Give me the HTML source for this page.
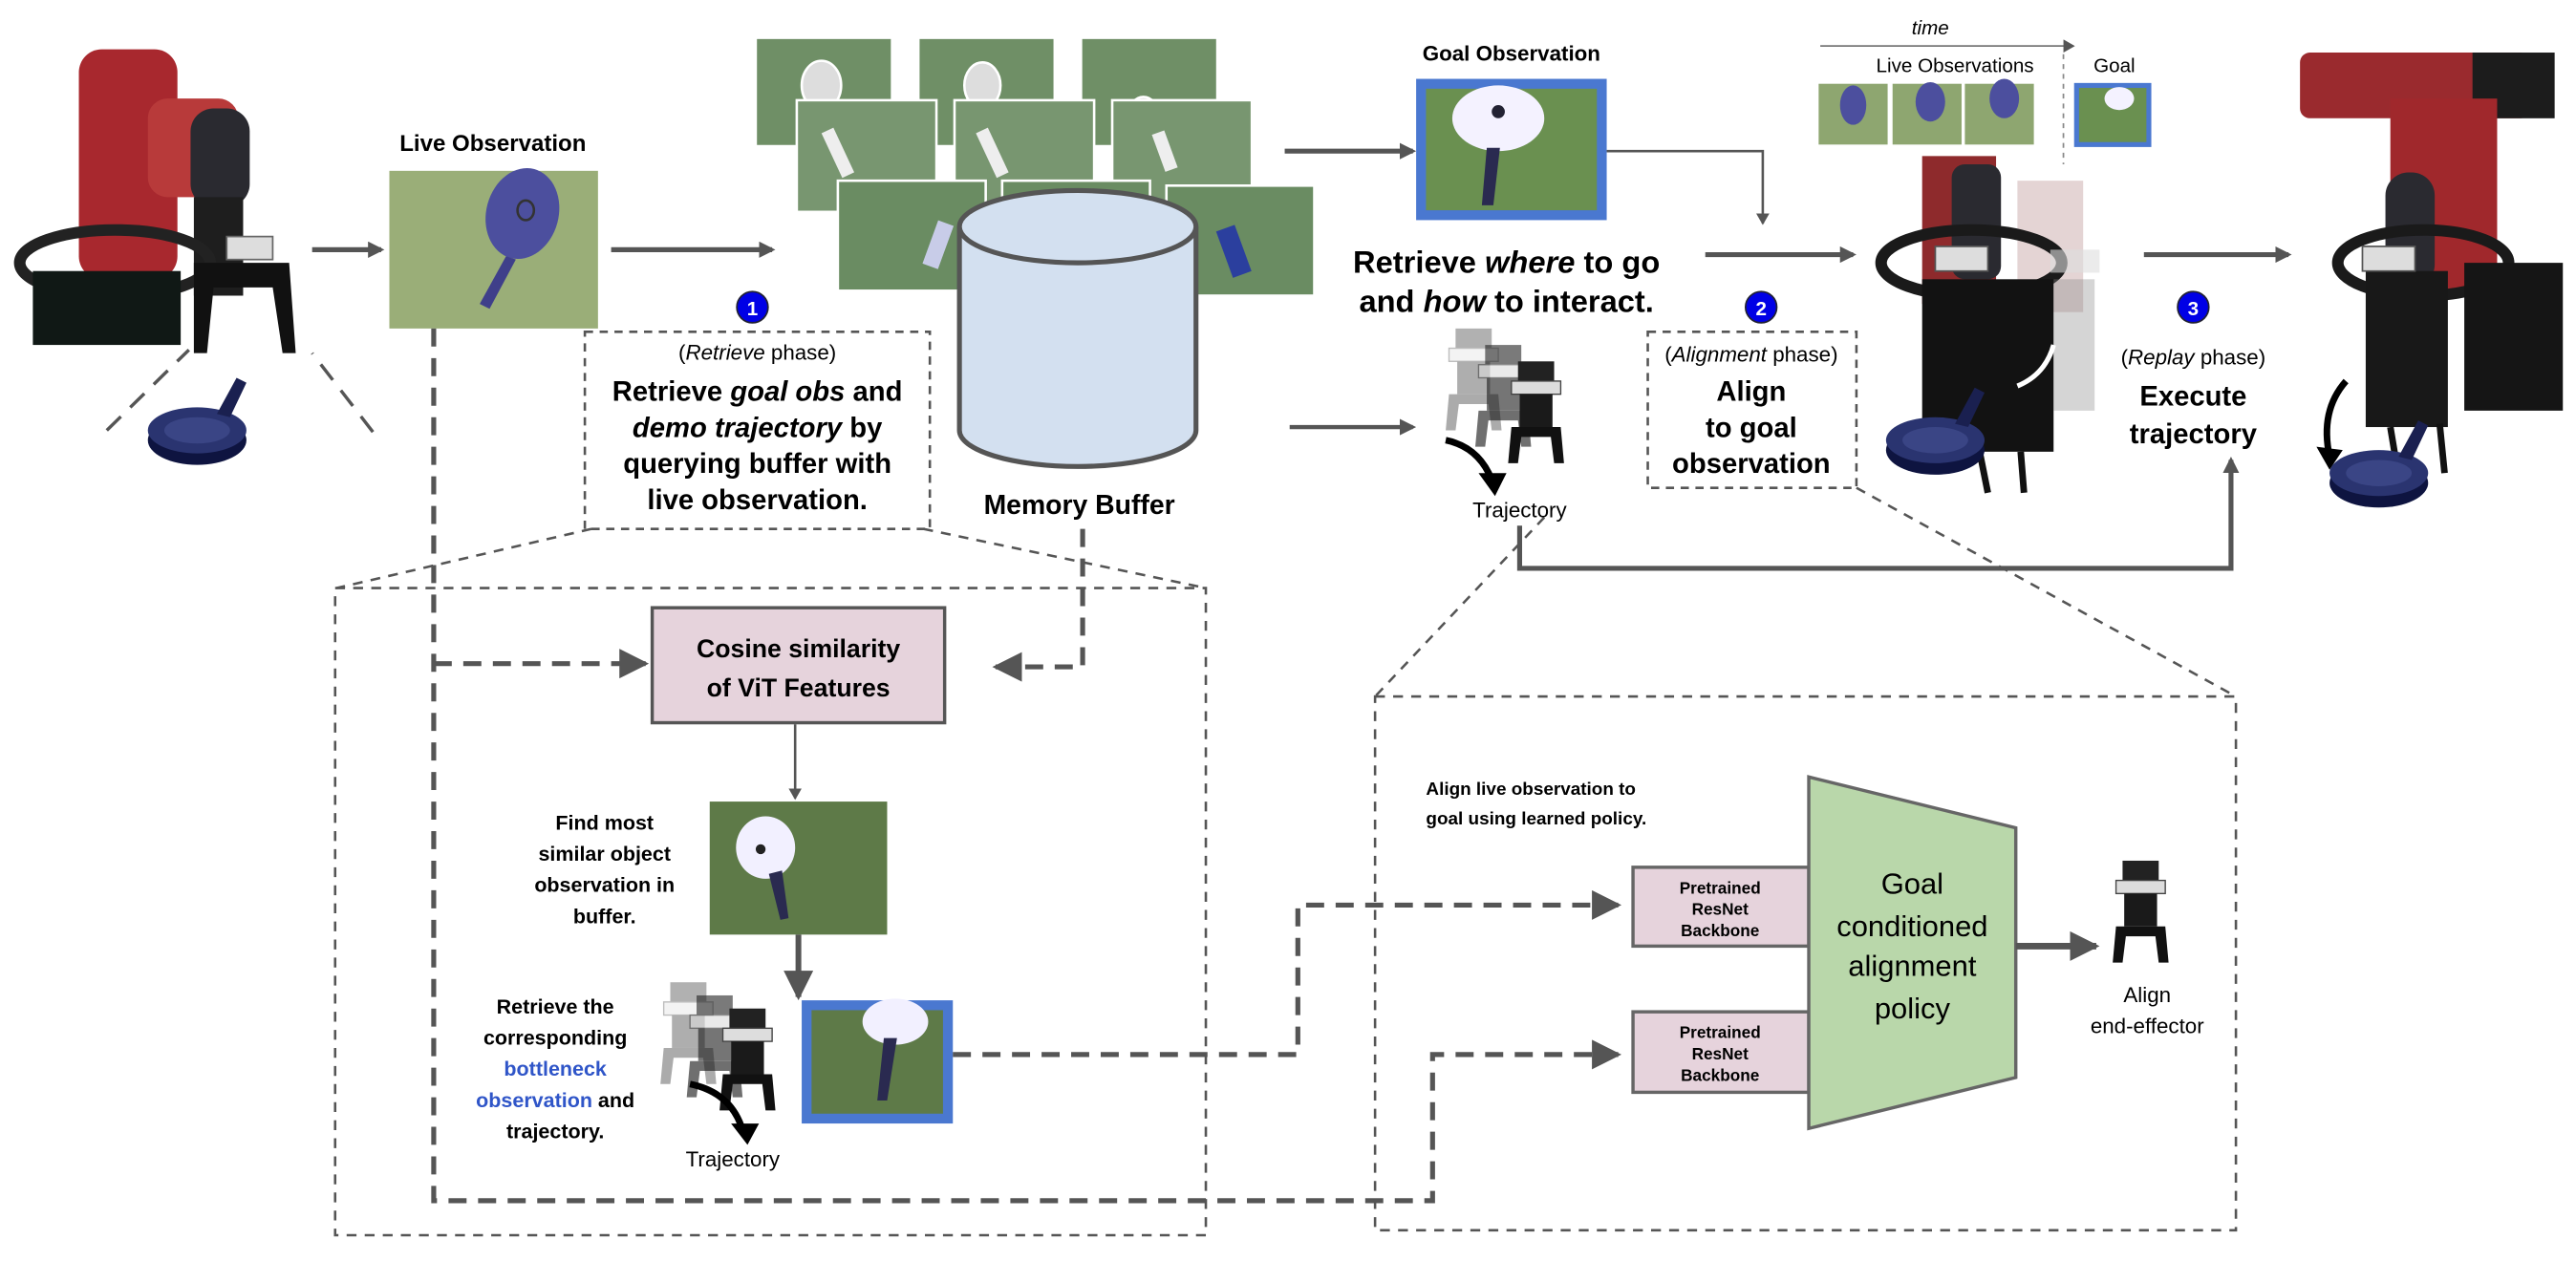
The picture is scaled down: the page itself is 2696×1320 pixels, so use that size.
<!DOCTYPE html>
<html><head><meta charset="utf-8"><style>
html,body{margin:0;padding:0;background:#fff;}
svg{display:block;}
text{font-family:"Liberation Sans",sans-serif;}
.b{font-weight:bold;}
</style></head><body>
<svg width="2696" height="1320" viewBox="0 0 1568 767.7" xmlns="http://www.w3.org/2000/svg">
<defs>
<marker id="ah" markerWidth="10" markerHeight="10" refX="8" refY="5" orient="auto" markerUnits="userSpaceOnUse"><path d="M0,0 L10,5 L0,10 z" fill="#555"/></marker>
<marker id="ahs" markerWidth="7" markerHeight="8" refX="6" refY="4" orient="auto" markerUnits="userSpaceOnUse"><path d="M0,0 L7,4 L0,8 z" fill="#555"/></marker>
<marker id="ahl" markerWidth="18" markerHeight="18" refX="16" refY="9" orient="auto" markerUnits="userSpaceOnUse"><path d="M0,0 L18,9 L0,18 z" fill="#555"/></marker>
<g id="grip">
<rect x="6" y="0" width="22" height="12" fill="#222"/>
<rect x="2" y="12" width="30" height="8" fill="#ddd" stroke="#444" stroke-width="0.8"/>
<rect x="7" y="20" width="20" height="20" fill="#1a1a1a"/>
<path d="M2,40 L32,40 L34,62 L28,62 L26,46 L8,46 L6,62 L0,62 z" fill="#111"/>
</g>
<g id="pan">
<ellipse cx="0" cy="6" rx="30" ry="15" fill="#0e1440"/>
<ellipse cx="0" cy="0" rx="30" ry="14" fill="#2a3470"/>
<ellipse cx="0" cy="0" rx="20" ry="8" fill="#3a4585"/>
<path d="M12,-10 L24,-32 L30,-29 L20,-8 z" fill="#1a2050"/>
</g>
</defs>

<!-- LEFT ROBOT -->
<g>
<rect x="48" y="30" width="60" height="140" rx="14" fill="#a8282e"/>
<rect x="90" y="60" width="55" height="60" rx="12" fill="#b83a3a"/>
<rect x="116" y="66" width="36" height="60" rx="14" fill="#2a2a30"/>
<rect x="118" y="120" width="30" height="60" fill="#1e1e1e"/>
<ellipse cx="70" cy="160" rx="58" ry="20" fill="none" stroke="#222" stroke-width="7"/>
<rect x="20" y="165" width="90" height="45" fill="#101815"/>
<rect x="138" y="144" width="28" height="14" fill="#ddd" stroke="#666" stroke-width="1"/>
<path d="M118,160 L176,160 L180,215 L172,215 L166,175 L130,175 L126,215 L118,215 z" fill="#111"/>
<line x1="65" y1="262" x2="115" y2="213" stroke="#555" stroke-width="2" stroke-dasharray="12,8"/>
<line x1="227" y1="263" x2="190" y2="215" stroke="#555" stroke-width="2" stroke-dasharray="12,8"/>
<use href="#pan" x="120" y="262"/>
</g>
<line x1="190" y1="152" x2="232" y2="152" stroke="#555" stroke-width="3" marker-end="url(#ah)"/>

<!-- Live observation -->
<text x="300" y="92" font-size="14" class="b" text-anchor="middle">Live Observation</text>
<rect x="237" y="104" width="127" height="96" fill="#9aae78"/>
<ellipse cx="318" cy="130" rx="22" ry="28" fill="#4c4f9e" transform="rotate(15 318 130)"/>
<ellipse cx="320" cy="128" rx="5" ry="6" fill="none" stroke="#333" stroke-width="1.5"/>
<path d="M308,156 L292,185 L298,188 L314,158 z" fill="#3f3f8a"/>
<line x1="372" y1="152" x2="470" y2="152" stroke="#555" stroke-width="3" marker-end="url(#ah)"/>

<!-- Buffer images -->
<g stroke="#fff" stroke-width="1.5">
<rect x="460" y="23" width="83" height="66" fill="#6f8f66"/>
<rect x="559" y="23" width="83" height="66" fill="#6f8f66"/>
<rect x="658" y="23" width="83" height="66" fill="#6f8f66"/>
<ellipse cx="500" cy="52" rx="12" ry="15" fill="#ddd"/><ellipse cx="598" cy="52" rx="11" ry="14" fill="#ddd"/><ellipse cx="696" cy="70" rx="9" ry="11" fill="#ddd"/>
<rect x="485" y="61" width="85" height="68" fill="#789670"/>
<rect x="581" y="61" width="85" height="68" fill="#789670"/>
<rect x="677" y="61" width="85" height="68" fill="#789670"/>
<rect x="510" y="110" width="90" height="67" fill="#6a8c62"/>
<rect x="610" y="110" width="90" height="67" fill="#6a8c62"/>
<rect x="710" y="113" width="90" height="67" fill="#6a8c62"/>
</g>
<rect x="506" y="78" width="8" height="30" fill="#eee" transform="rotate(-25 510 93)"/>
<rect x="600" y="78" width="8" height="30" fill="#eee" transform="rotate(-25 604 93)"/>
<rect x="705" y="80" width="8" height="24" fill="#eee" transform="rotate(-20 709 92)"/>
<rect x="566" y="135" width="10" height="28" fill="#c8cce8" transform="rotate(20 571 149)"/>
<rect x="745" y="138" width="12" height="30" fill="#2b3f9e" transform="rotate(-20 751 153)"/>

<!-- Cylinder -->
<path d="M584,138 L584,262 A72,22 0 0 0 728,262 L728,138" fill="#d3e0f0" stroke="#555" stroke-width="3"/>
<ellipse cx="656" cy="138" rx="72" ry="22" fill="#d3e0f0" stroke="#555" stroke-width="3"/>
<text x="657" y="313" font-size="16.5" class="b" text-anchor="middle">Memory Buffer</text>

<!-- Badge 1 and box -->
<circle cx="458" cy="187" r="9.5" fill="#0000e6" stroke="#223" stroke-width="1"/>
<text x="458" y="192" font-size="12" class="b" fill="#fff" text-anchor="middle">1</text>
<rect x="356" y="202" width="210" height="120" fill="none" stroke="#555" stroke-width="1.5" stroke-dasharray="5,4"/>
<text x="461" y="219" font-size="13" text-anchor="middle">(<tspan font-style="italic">Retrieve</tspan> phase)</text>
<text x="461" y="244" font-size="17" class="b" text-anchor="middle">Retrieve <tspan font-style="italic">goal obs</tspan> and</text>
<text x="461" y="266" font-size="17" class="b" text-anchor="middle"><tspan font-style="italic">demo trajectory</tspan> by</text>
<text x="461" y="288" font-size="17" class="b" text-anchor="middle">querying buffer with</text>
<text x="461" y="310" font-size="17" class="b" text-anchor="middle">live observation.</text>

<!-- zoom lines left -->
<line x1="360" y1="322" x2="205" y2="358" stroke="#555" stroke-width="1.5" stroke-dasharray="6,5"/>
<line x1="562" y1="322" x2="734" y2="358" stroke="#555" stroke-width="1.5" stroke-dasharray="6,5"/>
<rect x="204" y="358" width="530" height="394" fill="none" stroke="#555" stroke-width="1.5" stroke-dasharray="6,5"/>

<!-- dashed live obs line -->
<path d="M264,200 L264,731 L872,731 L872,642 L985,642" fill="none" stroke="#555" stroke-width="3" stroke-dasharray="11,7" marker-end="url(#ahl)"/>
<path d="M264,404 L393,404" fill="none" stroke="#555" stroke-width="3" stroke-dasharray="11,7" marker-end="url(#ahl)"/>
<path d="M659,322 L659,406 L606,406" fill="none" stroke="#555" stroke-width="3" stroke-dasharray="11,7" marker-end="url(#ahl)"/>

<!-- cosine box -->
<rect x="397" y="370" width="178" height="70" fill="#e6d3dc" stroke="#555" stroke-width="2"/>
<text x="486" y="400" font-size="15.5" class="b" text-anchor="middle">Cosine similarity</text>
<text x="486" y="424" font-size="15.5" class="b" text-anchor="middle">of ViT Features</text>
<line x1="484" y1="441" x2="484" y2="486" stroke="#555" stroke-width="1.5" marker-end="url(#ahs)"/>

<rect x="432" y="488" width="108" height="81" fill="#5e7a48"/>
<ellipse cx="466" cy="516" rx="18" ry="19" fill="#f2f0ff"/>
<circle cx="463" cy="517" r="3" fill="#222"/>
<path d="M468,532 L475,560 L480,559 L476,530 z" fill="#2a2a50"/>
<text x="368" y="505" font-size="12.5" class="b" text-anchor="middle">Find most</text>
<text x="368" y="524" font-size="12.5" class="b" text-anchor="middle">similar object</text>
<text x="368" y="543" font-size="12.5" class="b" text-anchor="middle">observation in</text>
<text x="368" y="562" font-size="12.5" class="b" text-anchor="middle">buffer.</text>
<line x1="486" y1="569" x2="486" y2="607" stroke="#555" stroke-width="3.5" marker-end="url(#ahl)"/>

<rect x="491" y="612" width="86" height="69" fill="#5e7a48" stroke="#4a78d0" stroke-width="6"/>
<ellipse cx="545" cy="622" rx="20" ry="14" fill="#f2f0ff"/>
<path d="M538,632 L534,670 L540,670 L546,632 z" fill="#2a2a50"/>

<g opacity="0.35"><use href="#grip" x="402" y="598"/></g>
<g opacity="0.6"><use href="#grip" x="418" y="606"/></g>
<use href="#grip" x="438" y="614"/>
<path d="M420,660 Q445,665 452,688" fill="none" stroke="#000" stroke-width="4"/>
<path d="M445,684 L462,684 L455,697 z" fill="#000"/>
<text x="446" y="710" font-size="13" text-anchor="middle">Trajectory</text>
<text x="338" y="617" font-size="12.5" class="b" text-anchor="middle">Retrieve the</text>
<text x="338" y="636" font-size="12.5" class="b" text-anchor="middle">corresponding</text>
<text x="338" y="655" font-size="12.5" class="b" text-anchor="middle" fill="#2f55c8">bottleneck</text>
<text x="338" y="674" font-size="12.5" class="b" text-anchor="middle"><tspan fill="#2f55c8">observation</tspan> and</text>
<text x="338" y="693" font-size="12.5" class="b" text-anchor="middle">trajectory.</text>

<path d="M580,642 L790,642 L790,551 L985,551" fill="none" stroke="#555" stroke-width="3" stroke-dasharray="11,7" marker-end="url(#ahl)"/>

<!-- right zoom box -->
<line x1="940" y1="315" x2="837" y2="424" stroke="#555" stroke-width="1.5" stroke-dasharray="6,5"/>
<line x1="1130" y1="297" x2="1361" y2="424" stroke="#555" stroke-width="1.5" stroke-dasharray="6,5"/>
<rect x="837" y="424" width="524" height="325" fill="none" stroke="#555" stroke-width="1.5" stroke-dasharray="6,5"/>
<text x="868" y="484" font-size="11" class="b">Align live observation to</text>
<text x="868" y="502" font-size="11" class="b">goal using learned policy.</text>
<rect x="994" y="528" width="107" height="48" fill="#e6d3dc" stroke="#666" stroke-width="2"/>
<text x="1047" y="544" font-size="10" class="b" text-anchor="middle">Pretrained</text>
<text x="1047" y="557" font-size="10" class="b" text-anchor="middle">ResNet</text>
<text x="1047" y="570" font-size="10" class="b" text-anchor="middle">Backbone</text>
<rect x="994" y="616" width="107" height="49" fill="#e6d3dc" stroke="#666" stroke-width="2"/>
<text x="1047" y="632" font-size="10" class="b" text-anchor="middle">Pretrained</text>
<text x="1047" y="645" font-size="10" class="b" text-anchor="middle">ResNet</text>
<text x="1047" y="658" font-size="10" class="b" text-anchor="middle">Backbone</text>
<polygon points="1101,473 1227,504 1227,656 1101,687" fill="#b9d7aa" stroke="#666" stroke-width="2"/>
<text x="1164" y="544" font-size="18" text-anchor="middle">Goal</text>
<text x="1164" y="570" font-size="18" text-anchor="middle">conditioned</text>
<text x="1164" y="594" font-size="18" text-anchor="middle">alignment</text>
<text x="1164" y="620" font-size="18" text-anchor="middle">policy</text>
<line x1="1227" y1="576" x2="1276" y2="576" stroke="#555" stroke-width="4" marker-end="url(#ahl)"/>
<use href="#grip" x="1286" y="524"/>
<text x="1307" y="610" font-size="13" text-anchor="middle">Align</text>
<text x="1307" y="629" font-size="13" text-anchor="middle">end-effector</text>

<!-- Goal observation -->
<line x1="782" y1="92" x2="860" y2="92" stroke="#555" stroke-width="3" marker-end="url(#ah)"/>
<text x="920" y="37" font-size="13" class="b" text-anchor="middle">Goal Observation</text>
<rect x="865" y="51" width="110" height="80" fill="#6a9050" stroke="#4a78d0" stroke-width="6"/>
<ellipse cx="912" cy="72" rx="28" ry="20" fill="#f4f2ff"/>
<circle cx="912" cy="68" r="4" fill="#223"/>
<path d="M905,90 L902,125 L909,125 L913,90 z" fill="#2a2a50"/>
<path d="M978,92 L1073,92 L1073,136" fill="none" stroke="#555" stroke-width="1.5" marker-end="url(#ahs)"/>
<text x="917" y="166" font-size="19" class="b" text-anchor="middle">Retrieve <tspan font-style="italic">where</tspan> to go</text>
<text x="917" y="190" font-size="19" class="b" text-anchor="middle">and <tspan font-style="italic">how</tspan> to interact.</text>
<line x1="1038" y1="155" x2="1128" y2="155" stroke="#555" stroke-width="3" marker-end="url(#ah)"/>

<line x1="785" y1="260" x2="860" y2="260" stroke="#555" stroke-width="2.5" marker-end="url(#ah)"/>
<g opacity="0.35"><use href="#grip" x="880" y="200"/></g>
<g opacity="0.6"><use href="#grip" x="898" y="210"/></g>
<use href="#grip" x="918" y="220"/>
<path d="M880,268 Q900,272 908,292" fill="none" stroke="#000" stroke-width="4"/>
<path d="M900,288 L917,288 L910,302 z" fill="#000"/>
<text x="925" y="315" font-size="13" text-anchor="middle">Trajectory</text>

<circle cx="1072" cy="187" r="9.5" fill="#0000e6" stroke="#223" stroke-width="1"/>
<text x="1072" y="192" font-size="12" class="b" fill="#fff" text-anchor="middle">2</text>
<rect x="1003" y="202" width="127" height="95" fill="none" stroke="#555" stroke-width="1.5" stroke-dasharray="5,4"/>
<text x="1066" y="220" font-size="13" text-anchor="middle">(<tspan font-style="italic">Alignment</tspan> phase)</text>
<text x="1066" y="244" font-size="17" class="b" text-anchor="middle">Align</text>
<text x="1066" y="266" font-size="17" class="b" text-anchor="middle">to goal</text>
<text x="1066" y="288" font-size="17" class="b" text-anchor="middle">observation</text>

<!-- middle robot -->
<g>
<rect x="1228" y="110" width="40" height="80" fill="#c9a9a9" opacity="0.5"/>
<rect x="1170" y="95" width="45" height="90" fill="#8e2a2c"/>
<rect x="1188" y="100" width="30" height="70" rx="8" fill="#2a2a30"/>
<ellipse cx="1200" cy="160" rx="55" ry="20" fill="none" stroke="#1a1a1a" stroke-width="7"/>
<rect x="1170" y="170" width="80" height="105" fill="#121212"/>
<rect x="1178" y="150" width="32" height="15" fill="#ddd" stroke="#555" stroke-width="1"/>
<rect x="1248" y="152" width="30" height="14" fill="#ddd" opacity="0.6"/>
<rect x="1250" y="170" width="25" height="80" fill="#888" opacity="0.35"/>
<path d="M1205,275 L1210,300 M1230,275 L1232,300" stroke="#111" stroke-width="4"/>
<path d="M1250,210 Q1245,228 1228,235" fill="none" stroke="#fff" stroke-width="3"/>
<use href="#pan" x="1178" y="268"/>
</g>

<!-- time strip -->
<text x="1175" y="21" font-size="12" font-style="italic" text-anchor="middle">time</text>
<line x1="1108" y1="28" x2="1262" y2="28" stroke="#777" stroke-width="1" marker-end="url(#ahs)"/>
<text x="1190" y="44" font-size="12" text-anchor="middle">Live Observations</text>
<text x="1287" y="44" font-size="12" text-anchor="middle">Goal</text>
<rect x="1107" y="51" width="42" height="37" fill="#8ea670"/>
<rect x="1152" y="51" width="42" height="37" fill="#8ea670"/>
<rect x="1196" y="51" width="42" height="37" fill="#8ea670"/>
<ellipse cx="1128" cy="64" rx="8" ry="12" fill="#4c4f9e"/><ellipse cx="1175" cy="62" rx="9" ry="12" fill="#4c4f9e"/><ellipse cx="1220" cy="60" rx="9" ry="12" fill="#4c4f9e"/>
<line x1="1256" y1="33" x2="1256" y2="100" stroke="#888" stroke-width="1" stroke-dasharray="3,3"/>
<rect x="1264" y="52" width="44" height="36" fill="#6a9050" stroke="#4a78d0" stroke-width="3"/>
<ellipse cx="1290" cy="60" rx="9" ry="7" fill="#f4f2ff"/>
<line x1="1305" y1="155" x2="1393" y2="155" stroke="#555" stroke-width="3" marker-end="url(#ah)"/>

<circle cx="1335" cy="187" r="9.5" fill="#0000e6" stroke="#223" stroke-width="1"/>
<text x="1335" y="192" font-size="12" class="b" fill="#fff" text-anchor="middle">3</text>
<text x="1335" y="222" font-size="13" text-anchor="middle">(<tspan font-style="italic">Replay</tspan> phase)</text>
<text x="1335" y="247" font-size="17" class="b" text-anchor="middle">Execute</text>
<text x="1335" y="270" font-size="17" class="b" text-anchor="middle">trajectory</text>
<path d="M925,320 L925,346 L1358,346 L1358,280" fill="none" stroke="#555" stroke-width="3" marker-end="url(#ah)"/>

<!-- right robot -->
<g>
<rect x="1400" y="32" width="140" height="40" rx="6" fill="#9a2a2e"/>
<rect x="1505" y="32" width="50" height="40" fill="#1c1c1c"/>
<rect x="1455" y="60" width="65" height="120" fill="#a0282c"/>
<rect x="1452" y="105" width="30" height="70" rx="14" fill="#2a2a30"/>
<ellipse cx="1475" cy="160" rx="52" ry="20" fill="none" stroke="#1a1a1a" stroke-width="7"/>
<rect x="1500" y="160" width="60" height="90" fill="#151515"/>
<rect x="1440" y="165" width="50" height="95" fill="#181818"/>
<rect x="1438" y="150" width="32" height="15" fill="#ddd" stroke="#555" stroke-width="1"/>
<path d="M1455,260 L1460,290 M1485,258 L1488,288" stroke="#111" stroke-width="4"/>
<path d="M1428,232 Q1412,250 1418,278" fill="none" stroke="#000" stroke-width="4"/>
<path d="M1410,272 L1426,274 L1418,286 z" fill="#000"/>
<use href="#pan" x="1448" y="288"/>
</g>
</svg>
</body></html>
